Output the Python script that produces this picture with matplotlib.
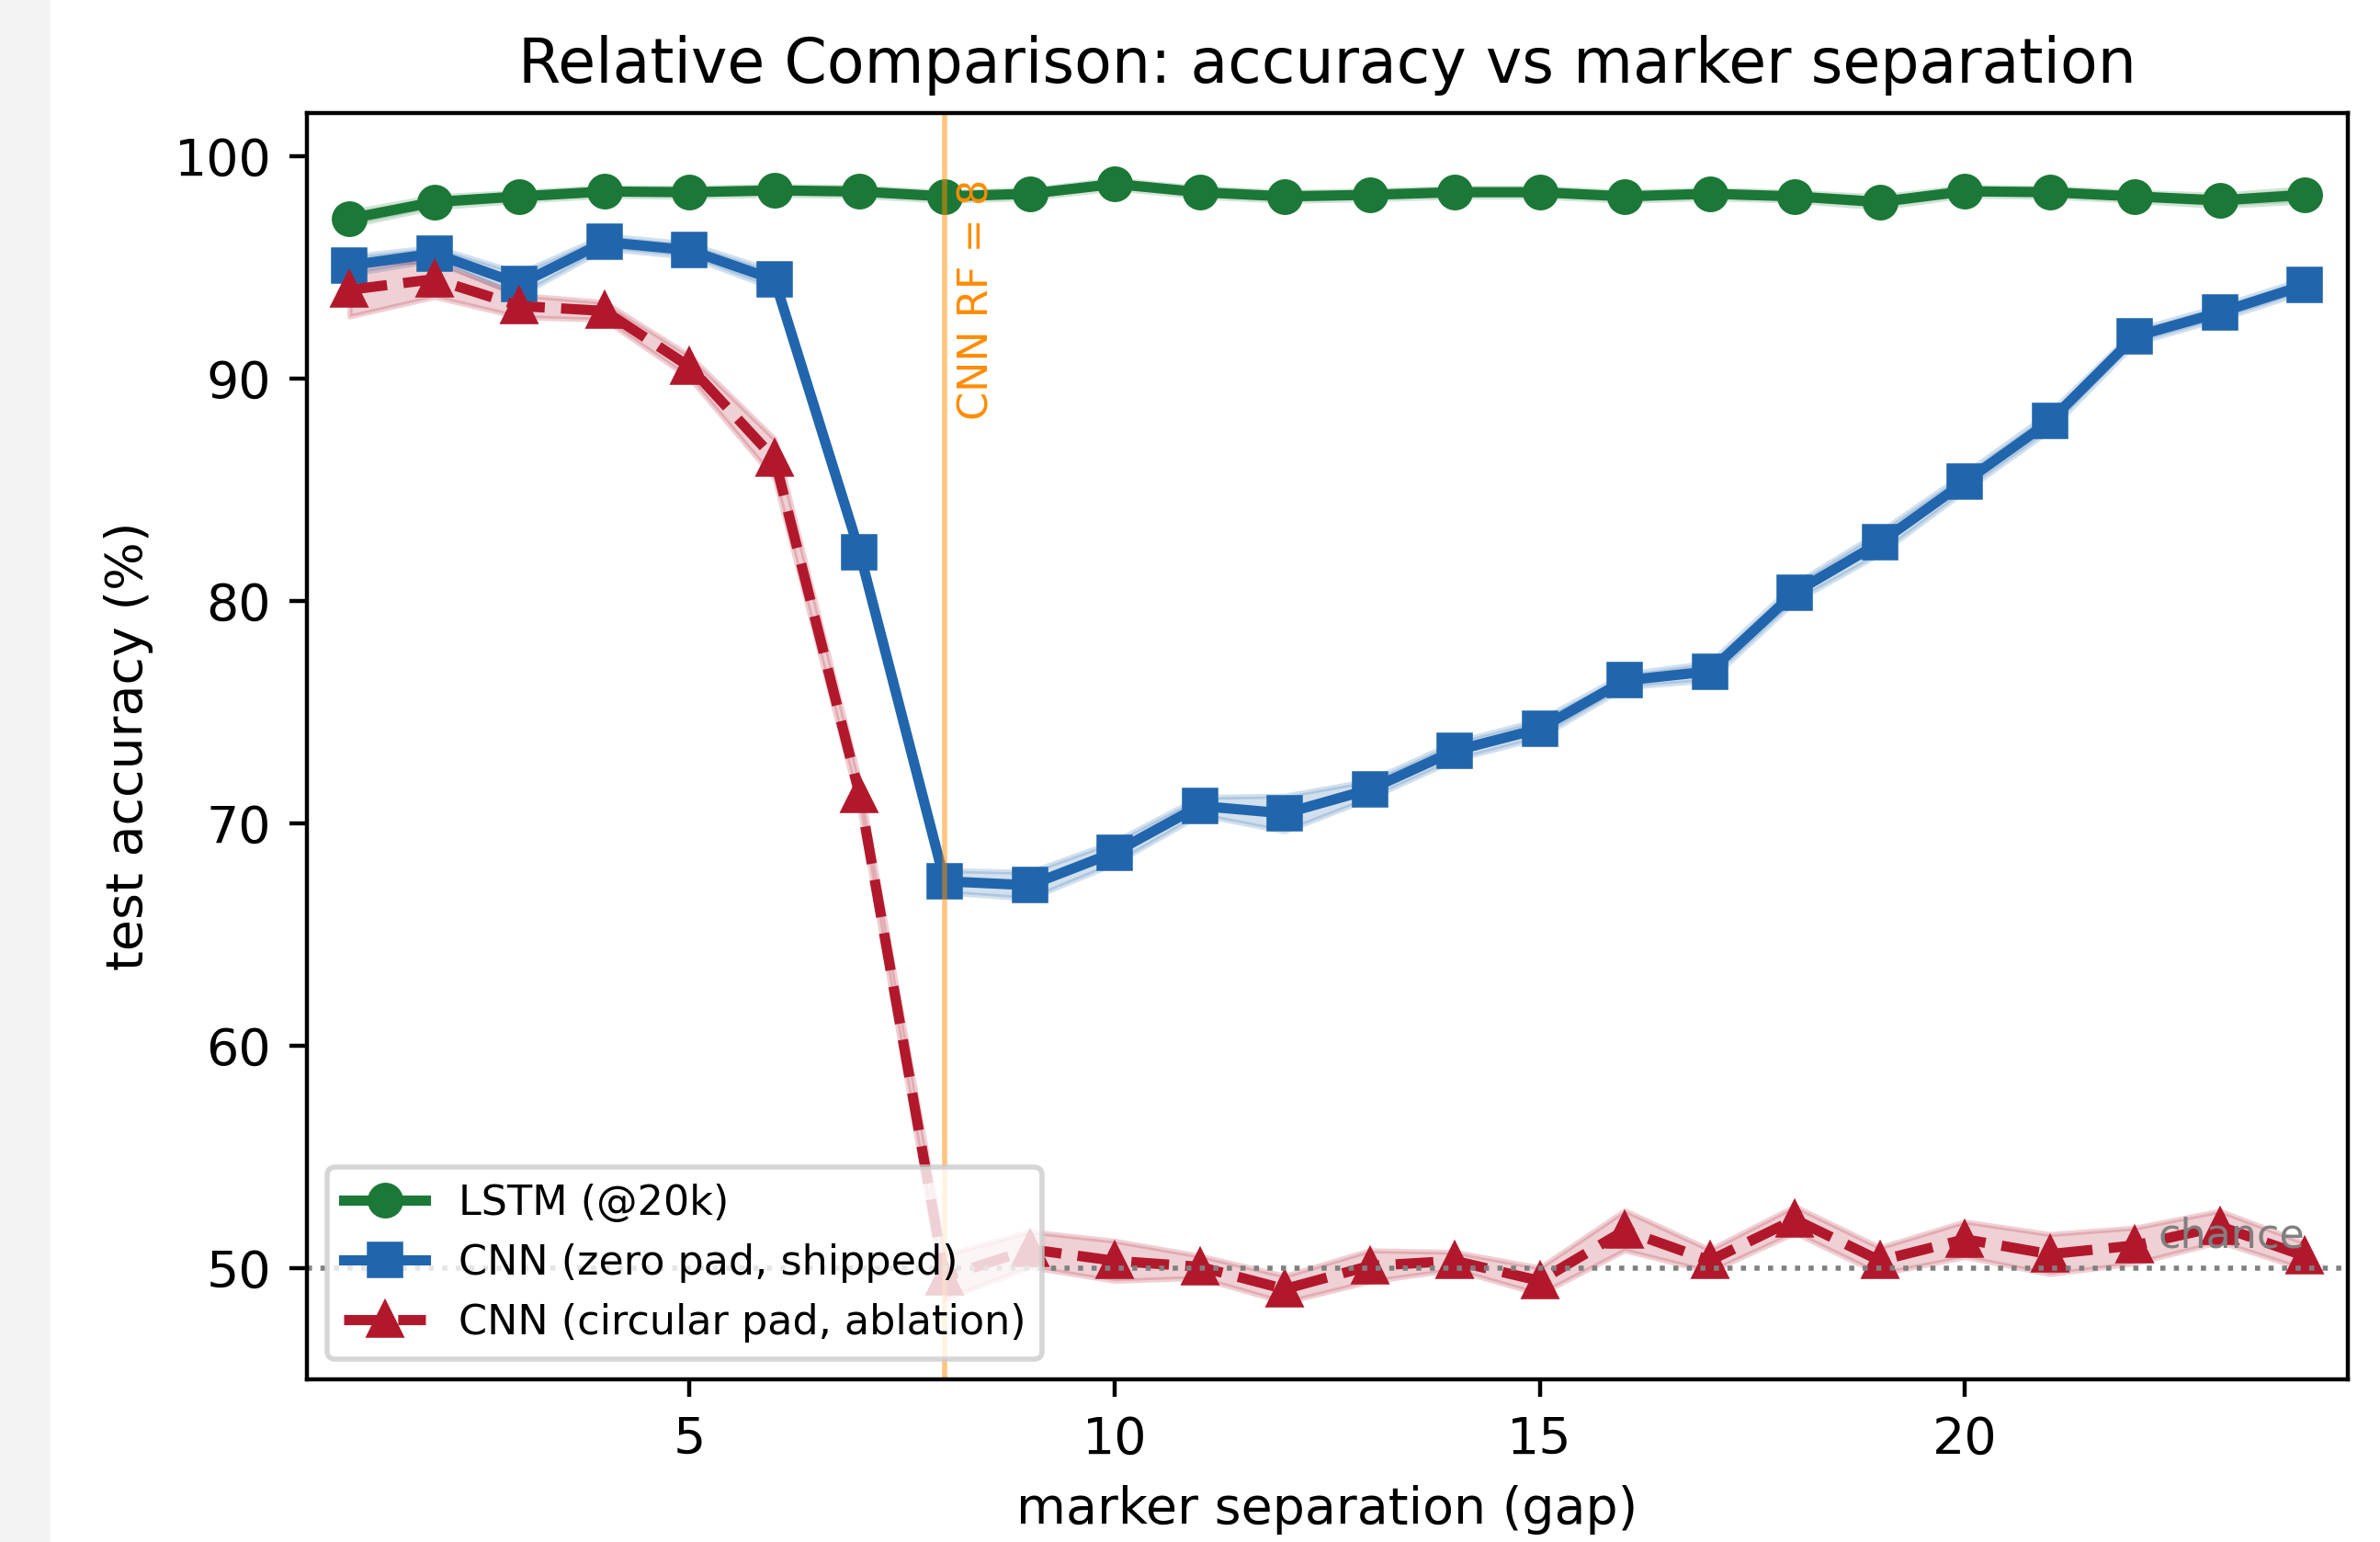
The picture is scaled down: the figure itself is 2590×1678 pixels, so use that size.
import matplotlib
matplotlib.use("Agg")
import matplotlib.pyplot as plt
import numpy as np
from matplotlib.patches import Rectangle

gaps = np.arange(1, 25)

lstm_mean = [97.2, 97.95, 98.2, 98.42, 98.39, 98.47, 98.42, 98.2, 98.32, 98.76, 98.39, 98.2,
             98.27, 98.39, 98.39, 98.2, 98.32, 98.2, 97.95, 98.43, 98.39, 98.2, 98.02, 98.27]
lstm_std = [0.3, 0.25, 0.2, 0.2, 0.2, 0.2, 0.2, 0.2, 0.2, 0.2, 0.2, 0.2,
            0.2, 0.2, 0.2, 0.2, 0.2, 0.2, 0.25, 0.2, 0.2, 0.2, 0.25, 0.3]

zero_mean = [95.1, 95.63, 94.26, 96.15, 95.78, 94.45, 82.2, 67.4, 67.22, 68.7, 70.79, 70.45,
             71.53, 73.27, 74.26, 76.43, 76.84, 80.39, 82.63, 85.36, 88.09, 91.9, 92.98, 94.21]
zero_std = [0.4, 0.3, 0.5, 0.3, 0.3, 0.4, 0.3, 0.5, 0.6, 0.5, 0.4, 0.8,
            0.4, 0.4, 0.4, 0.3, 0.4, 0.4, 0.5, 0.4, 0.4, 0.3, 0.3, 0.3]

circ_mean = [94.0, 94.48, 93.27, 93.05, 90.54, 86.4, 71.3, 49.6, 50.85, 50.33, 50.06, 49.06,
             50.1, 50.33, 49.43, 51.7, 50.34, 52.19, 50.34, 51.3, 50.63, 51.02, 51.88, 50.54]
circ_std = [1.2, 0.8, 0.5, 0.4, 0.5, 0.9, 0.6, 1.0, 0.8, 0.9, 0.5, 0.6,
            0.7, 0.4, 0.6, 0.9, 0.5, 0.6, 0.6, 0.8, 0.9, 0.8, 0.7, 0.6]

series = [
    ("LSTM (@20k)", lstm_mean, lstm_std, "#1b7837", "o", "-"),
    ("CNN (zero pad, shipped)", zero_mean, zero_std, "#2166ac", "s", "-"),
    ("CNN (circular pad, ablation)", circ_mean, circ_std, "#b2182b", "^", "--"),
]

dpi = 400
fig, ax = plt.subplots(figsize=(2590 / dpi, 1678 / dpi), dpi=dpi)
fig.subplots_adjust(left=0.129, right=0.9863, bottom=0.1055, top=0.9267)

# grey strip at the left edge of the screenshot
fig.patches.append(Rectangle((0, 0), 52 / 2590, 1, transform=fig.transFigure,
                             color="#f3f3f3", zorder=-1))

for label, m, s, c, mk, ls in series:
    m = np.array(m)
    s = np.array(s)
    ax.fill_between(gaps, m - s, m + s, color=c, alpha=0.2)
    ax.plot(gaps, m, ls, color=c, marker=mk, markersize=6, linewidth=2, label=label)

ax.axhline(50, color="gray", linestyle=":", linewidth=1)
ax.text(24, 50.55, "chance", color="gray", fontsize=8, ha="right", va="bottom")

ax.axvline(8, color="darkorange", alpha=0.5, linewidth=1)
ax.text(8.15, 99.0, "CNN RF = 8", color="darkorange", fontsize=8,
        rotation=90, ha="left", va="top")

ax.set_xlim(0.5, 24.5)
ax.set_ylim(45.0, 101.95)
ax.set_xticks([5, 10, 15, 20])
ax.set_yticks([50, 60, 70, 80, 90, 100])

ax.set_xlabel("marker separation (gap)")
ax.set_ylabel("test accuracy (%)")
ax.set_title("Relative Comparison: accuracy vs marker separation")
ax.legend(loc="lower left", fontsize=8)

fig.savefig("out.png", dpi=dpi)
